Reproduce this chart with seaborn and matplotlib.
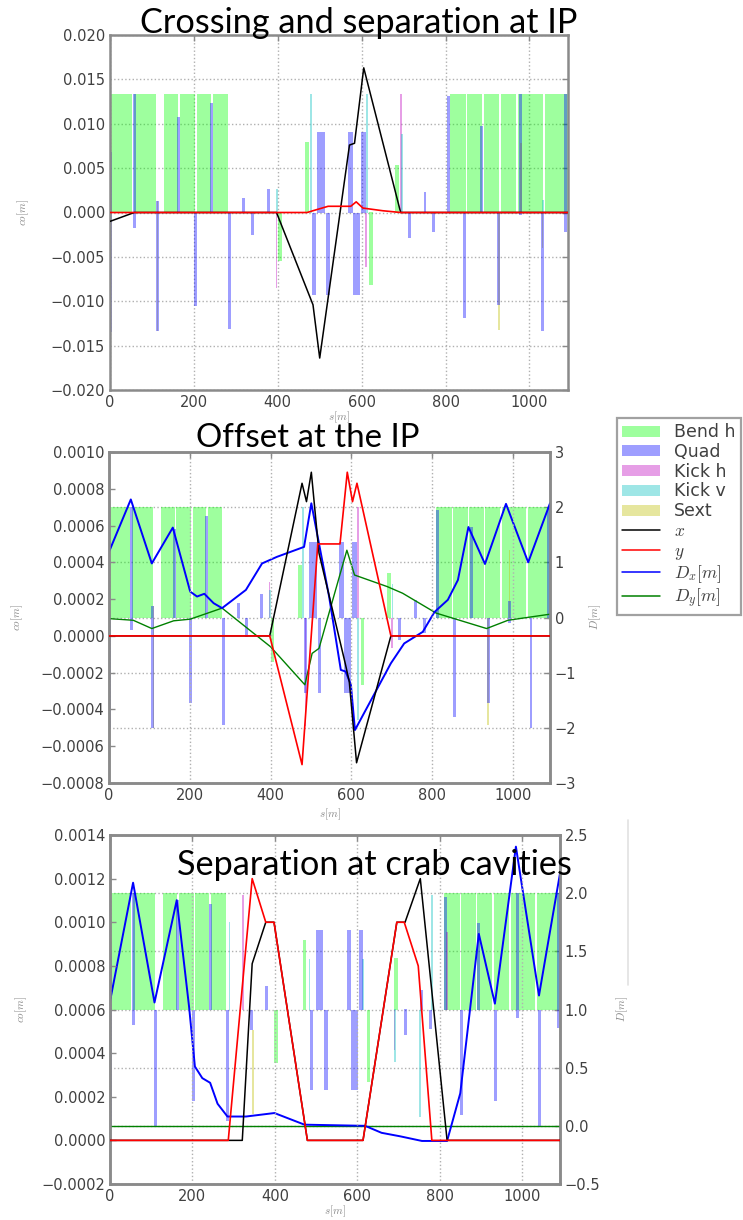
import numpy as np
import matplotlib
matplotlib.use("Agg")
import matplotlib.pyplot as plt
import seaborn as sns
from matplotlib.patches import Patch
from matplotlib.lines import Line2D
from matplotlib.ticker import FuncFormatter, MultipleLocator

sns.set_style("white")
plt.rcParams["font.family"] = ["DejaVu Sans"]
plt.rcParams["mathtext.fontset"] = "cm"

W, H = 743, 1220
S_MAX = 1092

# ---------------------------------------------------------------- lattice
# bend segments (start, end) along s [m]
BEND_SEG = [(0, 52), (57, 109), (128, 163), (167, 203), (207, 241), (246, 281),
            (810, 849), (852, 888), (891, 928), (932, 968), (973, 1032), (1037, 1092)]

# elements: (s centre, length, low, high)
# -- panel 1 (closed-orbit units)
P1_BEND_LEVEL = (0.0, 0.0133)
P1_QUAD = [(1, 3, -0.0135, 0.0068), (59, 5, -0.0018, 0.0133), (113, 4, -0.0134, 0.0013),
           (164, 5, 0, 0.0108), (204, 5, -0.0105, 0), (243, 5, 0, 0.0123),
           (284, 6, -0.0131, 0), (318, 5, 0, 0.0016), (339, 5, -0.0025, 0),
           (377, 4, 0, 0.0026), (487, 9, -0.0093, 0), (503, 20, 0, 0.0091),
           (519, 10, -0.0093, 0), (574, 13, 0, 0.0091), (588, 18, -0.0093, 0),
           (605, 12, 0, 0.0091), (714, 4, -0.0029, 0), (751, 5, 0, 0.0023),
           (772, 4, -0.0022, 0), (808, 6, 0, 0.0131), (846, 5, -0.0119, 0),
           (885, 5, 0, 0.0098), (927, 4, -0.0104, 0), (978, 5, -0.0003, 0.0133),
           (1031, 5, -0.0134, 0), (1087, 5, -0.0022, 0.0133)]
P1_KICKH = [(397, 2, -0.0085, 0), (610, 2, -0.0061, 0), (694, 3, 0, 0.0133)]
P1_KICKV = [(398, 2, 0, 0.0027), (480, 2, 0, 0.0133), (612, 2, 0, 0.0133),
            (696, 2, 0, 0.0089), (1033, 2, 0, 0.0014)]
P1_SEXT = [(113, 2, -0.0134, 0.0013), (927, 3, -0.0132, 0), (980, 2, 0, 0.0078),
           (1031, 2, -0.004, 0)]
P1_BEND_EXTRA = [(406, 5, -0.0055, 0), (470, 4, 0, 0.008), (622, 6, -0.0082, 0),
                 (685, 6, 0, 0.0053)]

# -- panel 2 (dispersion units)
P2_BEND_LEVEL = (0.0, 2.0)
P2_QUAD = [(1, 3, -2.0, 0), (55, 4, -0.23, 2.0), (108, 4, -2.0, 0.2), (162, 4, 0, 1.6),
           (202, 4, -1.55, 0), (242, 4, 0, 1.84), (283, 6, -1.95, 0), (320, 4, 0, 0.26),
           (341, 4, -0.35, 0), (378, 4, 0, 0.42), (487, 8, -1.37, 0), (505, 18, 0, 1.37),
           (521, 9, -1.37, 0), (576, 12, 0, 1.37), (590, 16, -1.37, 0), (608, 12, 0, 1.37),
           (720, 4, -0.41, 0), (758, 4, 0, 0.32), (781, 4, -0.28, 0), (814, 5, 0, 1.95),
           (856, 5, -1.8, 0), (898, 5, 0, 1.64), (939, 5, -1.55, 0), (992, 4, -0.1, 0.3),
           (1045, 5, -2.0, 0), (1089, 5, 0, 2.0)]
P2_KICKH = [(397, 3, 0, 0.65), (487, 3, -1.97, 0), (617, 3, 0, 2.0), (700, 3, -0.55, 0)]
P2_KICKV = [(399, 2, 0, 0.5), (481, 3, 0, 2.0), (617, 3, -1.86, 0), (702, 3, 0, 0.6)]
P2_SEXT = [(110, 2, -2.0, 0.2), (939, 3, -1.95, 0), (992, 3, 0, 1.22)]
P2_BEND_EXTRA = [(405, 5, -0.8, 0), (473, 5, 0, 0.95), (628, 6, -1.22, 0), (694, 8, 0, 0.8)]

# -- panel 3 (dispersion units, elements around D = 1)
P3_BEND_LEVEL = (1.0, 2.0)
P3_QUAD = [(1, 3, 0.0, 1.5), (56, 4, 0.87, 2.0), (110, 4, 0.0, 1.0), (163, 4, 1.0, 1.94),
           (202, 4, 0.21, 1.0), (243, 4, 1.0, 1.91), (285, 6, 0.04, 1.0), (343, 3, 0.82, 1.0),
           (379, 4, 1.0, 1.2), (489, 4, 0.31, 1.0), (509, 16, 1.0, 1.68), (524, 9, 0.31, 1.0),
           (579, 10, 1.0, 1.68), (594, 16, 0.31, 1.0), (609, 11, 1.0, 1.68), (718, 4, 0.78, 1.0),
           (755, 4, 1.0, 1.17), (778, 4, 0.83, 1.0), (814, 5, 1.0, 1.97), (854, 5, 0.09, 1.0),
           (895, 5, 1.0, 1.74), (936, 5, 0.21, 1.0), (988, 5, 0.93, 2.0), (1043, 5, 0.0, 1.0),
           (1089, 5, 0.84, 2.0)]
P3_KICKH = [(323, 3, 1.0, 1.98), (690, 3, 0.65, 1.0), (818, 3, 1.0, 1.67)]
P3_KICKV = [(290, 3, 1.0, 1.75), (484, 3, 1.0, 1.43), (614, 3, 1.0, 1.43),
            (692, 3, 0.55, 1.0), (753, 3, 0.08, 1.0), (781, 3, 1.0, 1.98)]
P3_SEXT = [(347, 2, 0.1, 0.82)]
P3_BEND_EXTRA = [(403, 5, 0.54, 1.0), (472, 5, 1.0, 1.6), (627, 6, 0.38, 1.0), (694, 10, 1.0, 1.44)]

# ---------------------------------------------------------------- optics
P1_S_X = [0, 58, 397, 484, 500, 571, 583, 605, 693, S_MAX]
P1_X = [-0.001, 0, 0, -0.0104, -0.0164, 0.0076, 0.0078, 0.0163, 0, 0]
P1_S_Y = [0, 470, 484, 520, 574, 587, 603, 650, 693, S_MAX]
P1_Y = [0, 0, 0.0002, 0.0007, 0.0007, 0.0012, 0.0005, 0.0002, 0, 0]

P2_S_X = [0, 398, 478, 489, 501, 520, 585, 595, 613, 698, S_MAX]
P2_X = [0, 0, 0.00083, 0.00073, 0.00089, 0.00045, -0.00015, -0.00025, -0.00069, 0, 0]
P2_S_Y = [0, 398, 478, 517, 572, 590, 603, 614, 698, S_MAX]
P2_Y = [0, 0, -0.0007, 0.0005, 0.0005, 0.00089, 0.00073, 0.00083, 0, 0]
P2_S_DX = [0, 54, 106, 158, 201, 218, 236, 259, 280, 339, 379, 416, 483, 501, 545, 574,
           586, 599, 609, 698, 731, 777, 806, 839, 864, 890, 931, 983, 1038, S_MAX]
P2_DX = [1.19, 2.14, 0.98, 1.63, 0.47, 0.38, 0.43, 0.26, 0.17, 0.5, 0.98, 1.1, 1.28, 2.07,
         0.38, -0.95, -0.98, -1.22, -2.04, -0.83, -0.47, -0.26, 0.1, 0.32, 0.68, 1.64,
         0.97, 2.06, 1.0, 2.07]
P2_S_DY = [0, 60, 106, 160, 201, 280, 400, 485, 503, 520, 589, 608, 689, 727, 810, 935,
           988, S_MAX]
P2_DY = [-0.02, -0.05, -0.2, -0.06, -0.03, 0.17, -0.53, -1.22, -0.65, -0.56, 1.22, 0.77,
         0.56, 0.44, 0.08, -0.2, -0.05, 0.06]

P3_S_X = [0, 321, 345, 378, 398, 479, 614, 696, 716, 753, 818, S_MAX]
P3_X = [0, 0, 0.00081, 0.001, 0.001, 0, 0, 0.001, 0.001, 0.0012, 0, 0]
P3_S_Y = [0, 287, 345, 378, 398, 479, 614, 696, 714, 748, 781, S_MAX]
P3_Y = [0, 0, 0.0012, 0.001, 0.001, 0, 0, 0.001, 0.001, 0.0008, 0, 0]
P3_S_DX = [0, 56, 108, 162, 192, 206, 224, 243, 261, 285, 330, 399, 472, 619, 659, 704,
           757, 818, 850, 895, 934, 985, 1041, S_MAX]
P3_DX = [1.07, 2.09, 1.06, 1.94, 1.02, 0.51, 0.41, 0.37, 0.19, 0.08, 0.08, 0.11, 0.01,
         0.0, -0.06, -0.09, -0.13, -0.13, 0.28, 1.65, 1.05, 2.4, 1.12, 2.17]
P3_S_DY = [0, S_MAX]
P3_DY = [0.0, 0.0]

TITLES = ["Crossing and separation at IP", "Offset at the IP", "Separation at crab cavities"]

LEGEND_LABELS = ["Bend h", "Quad", "Kick h", "Kick v", "Sext",
                 "$x$", "$y$", "$D_x[m]$", "$D_y[m]$"]

# ---------------------------------------------------------------- style
C_BEND, C_QUAD, C_KH, C_KV, C_SX = "lime", "blue", "m", "c", "y"
A_EL = 0.38
SPINE = "#8a8a8a"
TICKTXT = "#404040"
GRIDC = "#b0b0b0"
LABELC = "#8a8a8a"
# smallest drawn width per element family, in metres of s
MIN_W = {"bend": 9, "sext": 4, "kickh": 4, "kickv": 4, "quad": 7}

fig = plt.figure(figsize=(W / 100, H / 100), dpi=100)


def rect(l, t, r, b):
    return [l / W, 1 - b / H, (r - l) / W, (b - t) / H]


def fmt(decimals):
    return FuncFormatter(lambda v, p: f"{v:.{decimals}f}".replace("-", "\u2212"))


def style_axes(ax):
    for sp in ax.spines.values():
        sp.set_color(SPINE)
        sp.set_linewidth(1.8)
    ax.tick_params(direction="in", length=4, width=1, colors=SPINE,
                   labelcolor=TICKTXT, labelsize=10.5)


def draw_elements(ax, bend_level, quad, kickh, kickv, sext, bend_extra):
    lo, hi = bend_level
    st = np.array([a for a, b in BEND_SEG])
    en = np.array([b for a, b in BEND_SEG])
    ax.bar(st, hi - lo, bottom=lo, width=en - st, align="edge",
           color=C_BEND, alpha=A_EL, linewidth=0, zorder=2)
    for items, col, kind in [(bend_extra, C_BEND, "bend"), (sext, C_SX, "sext"),
                             (kickh, C_KH, "kickh"), (kickv, C_KV, "kickv"),
                             (quad, C_QUAD, "quad")]:
        if not items:
            continue
        s, w, l, h = (np.array(v, dtype=float) for v in zip(*items))
        ax.bar(s, h - l, bottom=l, width=np.maximum(w, MIN_W[kind]), align="center",
               color=col, alpha=A_EL, linewidth=0, zorder=2)


def line(ax, s, v, color, lw):
    sns.lineplot(x=s, y=v, ax=ax, color=color, lw=lw, sort=False,
                 estimator=None, legend=False, zorder=5)


def fit_title(text, left, right, baseline):
    t = fig.text(left / W, 1 - baseline / H, text, fontsize=20, family=["Lato", "DejaVu Sans"],
                 color="black", ha="left", va="baseline", zorder=20)
    r = fig.canvas.get_renderer()
    wpx = t.get_window_extent(r).width
    t.set_fontsize(20 * (right - left) / wpx)


# ---------------------------------------------------------------- panel 1
ax1 = fig.add_axes(rect(110, 35, 568, 390))
draw_elements(ax1, P1_BEND_LEVEL, P1_QUAD, P1_KICKH, P1_KICKV, P1_SEXT, P1_BEND_EXTRA)
line(ax1, P1_S_X, P1_X, "k", 1.1)
line(ax1, P1_S_Y, P1_Y, "r", 1.2)
ax1.set_xlim(0, S_MAX)
ax1.set_ylim(-0.02, 0.02)
ax1.yaxis.set_major_locator(MultipleLocator(0.005))
ax1.xaxis.set_major_locator(MultipleLocator(200))
ax1.yaxis.set_major_formatter(fmt(3))
ax1.grid(True, ls=":", color=GRIDC, lw=1.0)
style_axes(ax1)
ax1.tick_params(top=True, right=True)
ax1.set_xlabel("$s[m]$", fontsize=8, color=LABELC, labelpad=0)
ax1.set_ylabel("$co[m]$", fontsize=8, color=LABELC, labelpad=14)


# ---------------------------------------------------------------- panels 2, 3
def twin_panel(box, ylim, ystep, ydec, dlim, dstep, ddec, elements, lines_lr, pads):
    ax = fig.add_axes(rect(*box))
    axr = ax.twinx()
    ax.set_zorder(axr.get_zorder() + 1)
    ax.patch.set_visible(False)
    draw_elements(axr, *elements)
    (sx, vx, sy, vy, sdx, vdx, sdy, vdy) = lines_lr
    line(axr, sdy, vdy, "g", 1.0)
    line(axr, sdx, vdx, "b", 1.4)
    line(ax, sx, vx, "k", 1.1)
    line(ax, sy, vy, "r", 1.2)
    ax.set_xlim(0, S_MAX)
    ax.set_ylim(*ylim)
    axr.set_ylim(*dlim)
    ax.yaxis.set_major_locator(MultipleLocator(ystep))
    axr.yaxis.set_major_locator(MultipleLocator(dstep))
    ax.xaxis.set_major_locator(MultipleLocator(200))
    ax.yaxis.set_major_formatter(fmt(ydec))
    axr.yaxis.set_major_formatter(fmt(ddec))
    ax.xaxis.grid(True, ls=":", color=GRIDC, lw=1.0)
    axr.yaxis.grid(True, ls=":", color=GRIDC, lw=1.0)
    style_axes(ax)
    style_axes(axr)
    ax.tick_params(top=True)
    ax.set_xlabel("$s[m]$", fontsize=8, color=LABELC, labelpad=pads[0])
    ax.set_ylabel("$co[m]$", fontsize=8, color=LABELC, labelpad=pads[1])
    axr.set_ylabel("$D[m]$", fontsize=8, color=LABELC, labelpad=pads[2])
    return ax, axr


ax2, ax2r = twin_panel((109, 452, 550, 783), (-0.0008, 0.001), 0.0002, 4, (-3, 3), 1, 0,
                       (P2_BEND_LEVEL, P2_QUAD, P2_KICKH, P2_KICKV, P2_SEXT, P2_BEND_EXTRA),
                       (P2_S_X, P2_X, P2_S_Y, P2_Y, P2_S_DX, P2_DX, P2_S_DY, P2_DY),
                       (3, 11, 8))

ax3, ax3r = twin_panel((110, 835, 560, 1184), (-0.0002, 0.0014), 0.0002, 4, (-0.5, 2.5), 0.5, 1,
                       (P3_BEND_LEVEL, P3_QUAD, P3_KICKH, P3_KICKV, P3_SEXT, P3_BEND_EXTRA),
                       (P3_S_X, P3_X, P3_S_Y, P3_Y, P3_S_DX, P3_DX, P3_S_DY, P3_DY),
                       (0, 9, 10))

# ---------------------------------------------------------------- legend
handles = [Patch(color=c, alpha=A_EL, lw=0) for c in (C_BEND, C_QUAD, C_KH, C_KV, C_SX)]
handles += [Line2D([], [], color=c, lw=1.1) for c in ("k", "r", "b", "g")]
leg = fig.legend(handles, LEGEND_LABELS, loc="upper left",
                 bbox_to_anchor=(617 / W, 1 - 418 / H), bbox_transform=fig.transFigure,
                 borderaxespad=0, fancybox=False, fontsize=12.5, handlelength=2.2,
                 handleheight=0.6, labelspacing=0.1, borderpad=0.3, handletextpad=0.8)
leg.get_frame().set_edgecolor(SPINE)
leg.get_frame().set_linewidth(1.6)
for t in leg.get_texts():
    t.set_color("#404040")

# faint frame edge beside the lower panel
fig.add_artist(Line2D([628 / W, 628 / W], [1 - 820 / H, 1 - 985 / H],
                      transform=fig.transFigure, color="#e2e2e2", lw=1.2))

# ---------------------------------------------------------------- titles
fit_title(TITLES[0], 140, 578, 33)
fit_title(TITLES[1], 196, 420, 447)
fit_title(TITLES[2], 177, 572, 875)

fig.savefig("out.png", dpi=100)
